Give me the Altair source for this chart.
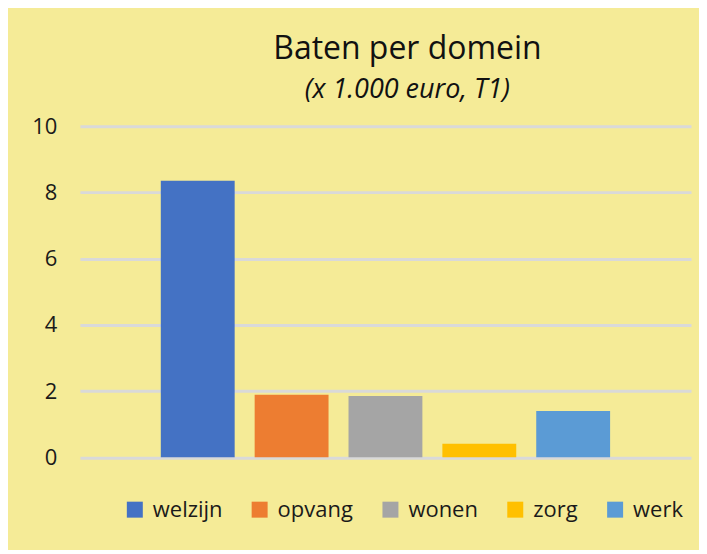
import altair as alt
import pandas as pd

domeinen = ["welzijn", "opvang", "wonen", "zorg", "werk"]
baten = [8.35, 1.89, 1.85, 0.41, 1.40]
kleuren = ["#4472C4", "#ED7D31", "#A5A5A5", "#FFC000", "#5B9BD5"]
y_ticks = [0, 2, 4, 6, 8, 10]

df = pd.DataFrame({"domein": domeinen, "baten": baten})

FONT = "Open Sans"
BG = "#F5EB97"

chart = (
    alt.Chart(df)
    .mark_bar()
    .encode(
        x=alt.X(
            "domein:N",
            sort=domeinen,
            axis=None,
            scale=alt.Scale(paddingInner=0.213, paddingOuter=0.862),
        ),
        y=alt.Y(
            "baten:Q",
            scale=alt.Scale(domain=[0, 10], nice=False),
            axis=alt.Axis(
                values=y_ticks,
                title=None,
                grid=True,
                gridColor="#D9D9D9",
                gridWidth=3,
                domain=False,
                ticks=False,
                tickSize=0,
                labelPadding=23,
                labelFont=FONT,
                labelFontSize=22,
                labelColor="#1a1a1a",
            ),
        ),
        color=alt.Color(
            "domein:N",
            sort=domeinen,
            scale=alt.Scale(domain=domeinen, range=kleuren),
            legend=alt.Legend(
                title=None,
                orient="none",
                legendX=44,
                legendY=373,
                direction="horizontal",
                columns=5,
                symbolType="square",
                symbolSize=256,
                symbolStrokeWidth=0,
                symbolOpacity=1,
                labelOffset=7,
                columnPadding=26,
                labelFont=FONT,
                labelFontSize=22,
                labelColor="#1a1a1a",
            ),
        ),
    )
    .properties(
        width=612,
        height=331.5,
        autosize=alt.AutoSizeParams(type="none"),
        padding={"left": 72, "top": 118, "right": 8, "bottom": 92.5},
        title=alt.TitleParams(
            text="Baten per domein",
            subtitle="(x 1.000 euro, T1)",
            anchor="middle",
            dx=22,
            offset=11,
            font=FONT,
            fontSize=32,
            fontWeight="normal",
            color="#111111",
            subtitleFont=FONT,
            subtitleFontSize=27,
            subtitleFontStyle="italic",
            subtitleColor="#111111",
            subtitlePadding=11,
        ),
    )
    .configure(background=BG)
    .configure_view(stroke=None)
)

chart.save("out.html", embed_options={"renderer": "svg", "actions": False})
